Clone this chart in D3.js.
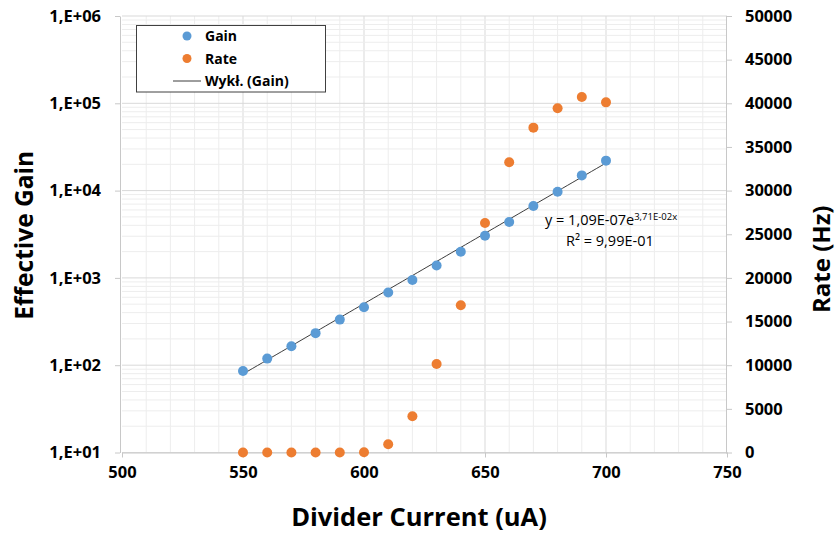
<!DOCTYPE html>
<html>
<head>
<meta charset="utf-8">
<script src="https://cdn.jsdelivr.net/npm/d3@7"></script>
<style>
  body { margin: 0; background: #fff; }
  svg { display: block; font-family: "Open Sans", sans-serif; }
</style>
</head>
<body>
<svg id="chart" width="836" height="533"></svg>
<script>
// Data
const current = [550, 560, 570, 580, 590, 600, 610, 620, 630, 640, 650, 660, 670, 680, 690, 700];
const gain = [86, 119, 165, 233, 333, 462, 680, 944, 1387, 1991, 3040, 4365, 6653, 9710, 14930, 22030];
const rate = [0, 0, 0, 0, 0, 20, 940, 4150, 10140, 16860, 26290, 33240, 37210, 39430, 40720, 40110];
const xTicks = [500, 550, 600, 650, 700, 750];
const gainTicks = [1e1, 1e2, 1e3, 1e4, 1e5, 1e6];
const rateTicks = [0, 5000, 10000, 15000, 20000, 25000, 30000, 35000, 40000, 45000, 50000];
// Excel exponential trendline coefficients (y = a * e^(b x))
const trendA = 1.09e-7, trendB = 0.0371;

const svg = d3.select('#chart');
const plotL = 122, plotR = 727, plotT = 16, plotB = 452.5;

const x = d3.scaleLinear().domain([500, 750]).range([plotL, plotR]);
const yL = d3.scaleLog().domain([10, 1e6]).range([plotB, plotT]);
const yR = d3.scaleLinear().domain([0, 50000]).range([plotB, plotT]);

const grid = svg.append('g');
// vertical grid every 10
d3.range(510, 750, 10).forEach(v => {
  grid.append('line')
    .attr('x1', x(v)).attr('x2', x(v)).attr('y1', plotT).attr('y2', plotB)
    .attr('stroke', v % 50 === 0 ? '#d9d9d9' : '#ededed').attr('stroke-width', 1);
});
// horizontal log grid
for (let e = 1; e < 6; e++) {
  for (let m = 2; m <= 9; m++) {
    const v = m * Math.pow(10, e);
    grid.append('line')
      .attr('x1', plotL).attr('x2', plotR).attr('y1', yL(v)).attr('y2', yL(v))
      .attr('stroke', '#ededed').attr('stroke-width', 1);
  }
}
gainTicks.forEach(v => {
  grid.append('line')
    .attr('x1', plotL).attr('x2', plotR).attr('y1', yL(v)).attr('y2', yL(v))
    .attr('stroke', '#d9d9d9').attr('stroke-width', 1);
});

// axes
const fmtExp = v => '1,E+' + String(Math.round(Math.log10(v))).padStart(2, '0');

const axB = svg.append('g').attr('transform', `translate(0,${plotB})`)
  .call(d3.axisBottom(x).tickValues(xTicks).tickSize(5).tickPadding(9).tickSizeOuter(0));
const axL = svg.append('g').attr('transform', `translate(${plotL - 2},0)`)
  .call(d3.axisLeft(yL).tickValues(gainTicks).tickFormat(fmtExp).tickSize(5).tickPadding(14).tickSizeOuter(0));
const axR = svg.append('g').attr('transform', `translate(${plotR - 1},0)`)
  .call(d3.axisRight(yR).tickValues(rateTicks).tickFormat(d3.format('d')).tickSize(6).tickPadding(13).tickSizeOuter(0));

[axB, axL, axR].forEach(a => {
  a.select('.domain').attr('stroke', '#c8c8c8');
  a.selectAll('.tick line').attr('stroke', '#c8c8c8');
  a.selectAll('.tick text')
    .attr('fill', '#000')
    .style('font-family', '"Open Sans", sans-serif')
    .style('font-weight', 'bold')
    .style('font-size', '16.5px');
});

// trendline
const trendX = d3.range(550, 700.1, 2);
const line = d3.line().x(d => x(d)).y(d => yL(trendA * Math.exp(trendB * d)));
svg.append('path')
  .attr('d', line(trendX))
  .attr('fill', 'none')
  .attr('stroke', '#262626')
  .attr('stroke-width', 0.9);

// points
svg.append('g').selectAll('circle').data(current).join('circle')
  .attr('cx', d => x(d))
  .attr('cy', (d, i) => yL(gain[i]))
  .attr('r', 5)
  .attr('fill', '#5b9bd5');

svg.append('g').selectAll('circle').data(current).join('circle')
  .attr('cx', d => x(d))
  .attr('cy', (d, i) => yR(rate[i]))
  .attr('r', 5)
  .attr('fill', '#ed7d31');

// trendline label
const eq = svg.append('text')
  .attr('x', 545).attr('y', 225)
  .style('font-size', '14.5px').attr('fill', '#000');
eq.append('tspan').text('y = 1,09E-07e');
eq.append('tspan').attr('dy', -5).style('font-size', '9.5px').text('3,71E-02x');
svg.append('text')
  .attr('x', 566).attr('y', 246)
  .style('font-size', '14.5px').attr('fill', '#000')
  .text('R² = 9,99E-01');

// axis titles
svg.append('text')
  .attr('transform', `translate(33,${(plotT + plotB) / 2 + 1}) rotate(-90)`)
  .attr('text-anchor', 'middle')
  .style('font-weight', 'bold').style('font-size', '24.5px')
  .text('Effective Gain');
svg.append('text')
  .attr('transform', `translate(830,${(plotT + plotB) / 2 + 25}) rotate(-90)`)
  .attr('text-anchor', 'middle')
  .style('font-weight', 'bold').style('font-size', '24px')
  .text('Rate (Hz)');
svg.append('text')
  .attr('x', 419).attr('y', 526)
  .attr('text-anchor', 'middle')
  .style('font-weight', 'bold').style('font-size', '25.5px')
  .text('Divider Current (uA)');

// legend
const legend = svg.append('g');
legend.append('rect')
  .attr('x', 136.5).attr('y', 25.5).attr('width', 189).attr('height', 66.5)
  .attr('fill', '#fff').attr('stroke', '#404040').attr('stroke-width', 1);
const items = [
  { label: 'Gain', color: '#5b9bd5', type: 'dot' },
  { label: 'Rate', color: '#ed7d31', type: 'dot' },
  { label: 'Wykł. (Gain)', color: '#262626', type: 'line' }
];
items.forEach((it, i) => {
  const cy = 36 + i * 22.5;
  if (it.type === 'dot') {
    legend.append('circle').attr('cx', 187).attr('cy', cy).attr('r', 4.5).attr('fill', it.color);
  } else {
    legend.append('line').attr('x1', 173).attr('x2', 201).attr('y1', cy).attr('y2', cy)
      .attr('stroke', it.color).attr('stroke-width', 0.9);
  }
  legend.append('text')
    .attr('x', 205).attr('y', cy + 5)
    .style('font-weight', 'bold').style('font-size', '14px')
    .text(it.label);
});
</script>
</body>
</html>
